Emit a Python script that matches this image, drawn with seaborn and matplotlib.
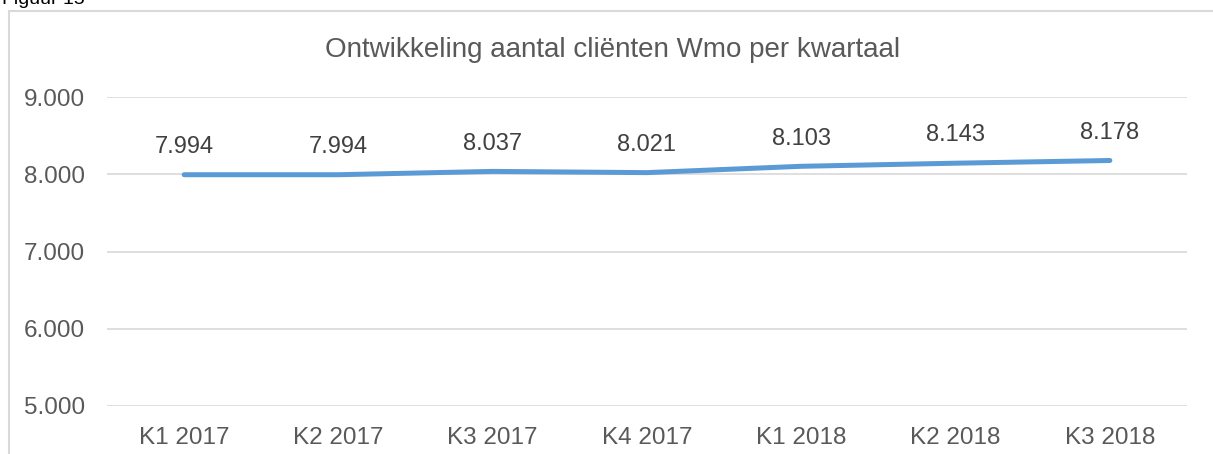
import matplotlib
matplotlib.use("Agg")
import matplotlib.pyplot as plt
import pandas as pd
import seaborn as sns
from matplotlib.patches import Rectangle

# Data
quarters = ["K1 2017", "K2 2017", "K3 2017", "K4 2017", "K1 2018", "K2 2018", "K3 2018"]
clients = [7994, 7994, 8037, 8021, 8103, 8143, 8178]
y_ticks = [5000, 6000, 7000, 8000, 9000]

sns.set_style("white")
plt.rcParams["font.family"] = ["Liberation Sans", "DejaVu Sans"]

df = pd.DataFrame({"kwartaal": quarters, "clienten": clients})

fig = plt.figure(figsize=(12.13, 4.54), dpi=100)
ax = fig.add_axes([107 / 1213, 1 - 406 / 454, (1187 - 107) / 1213, (406 - 97) / 454])

sns.lineplot(data=df, x="kwartaal", y="clienten", ax=ax, color="#5B9BD5",
             linewidth=3.6, sort=False, solid_capstyle="round")

for i, v in enumerate(clients):
    ax.annotate(f"{v:,}".replace(",", "."), (i, v), xytext=(0, 20), textcoords="offset points",
                ha="center", va="center", fontsize=17, color="#404040")

ax.set_xlim(-0.5, len(quarters) - 0.5)
ax.set_ylim(5000, 9000)
ax.set_yticks(y_ticks)
ax.set_yticklabels([f"{t:,}".replace(",", ".") for t in y_ticks])
ax.yaxis.grid(True, color="#D9D9D9", linewidth=1.2)
ax.set_axisbelow(True)
for s in ax.spines.values():
    s.set_visible(False)
ax.tick_params(axis="both", length=0, labelsize=17.5, labelcolor="#595959")
ax.tick_params(axis="y", pad=16)
ax.tick_params(axis="x", pad=15)
ax.set_xlabel("")
ax.set_ylabel("")

fig.text(613 / 1213, 1 - 50 / 454, "Ontwikkeling aantal cliënten Wmo per kwartaal",
         ha="center", va="center", fontsize=20, color="#595959")

# chart border and caption
fig.patches.append(Rectangle((9 / 1213, -0.1), 1.2, 1 - 11 / 454 + 0.1, transform=fig.transFigure,
                             fill=False, edgecolor="#D9D9D9", linewidth=1.5))
fig.text(2 / 1213, 1 - 8 / 454, "Figuur 15", ha="left", va="bottom", fontsize=14, color="#000000")

fig.savefig("out.png", dpi=100)
